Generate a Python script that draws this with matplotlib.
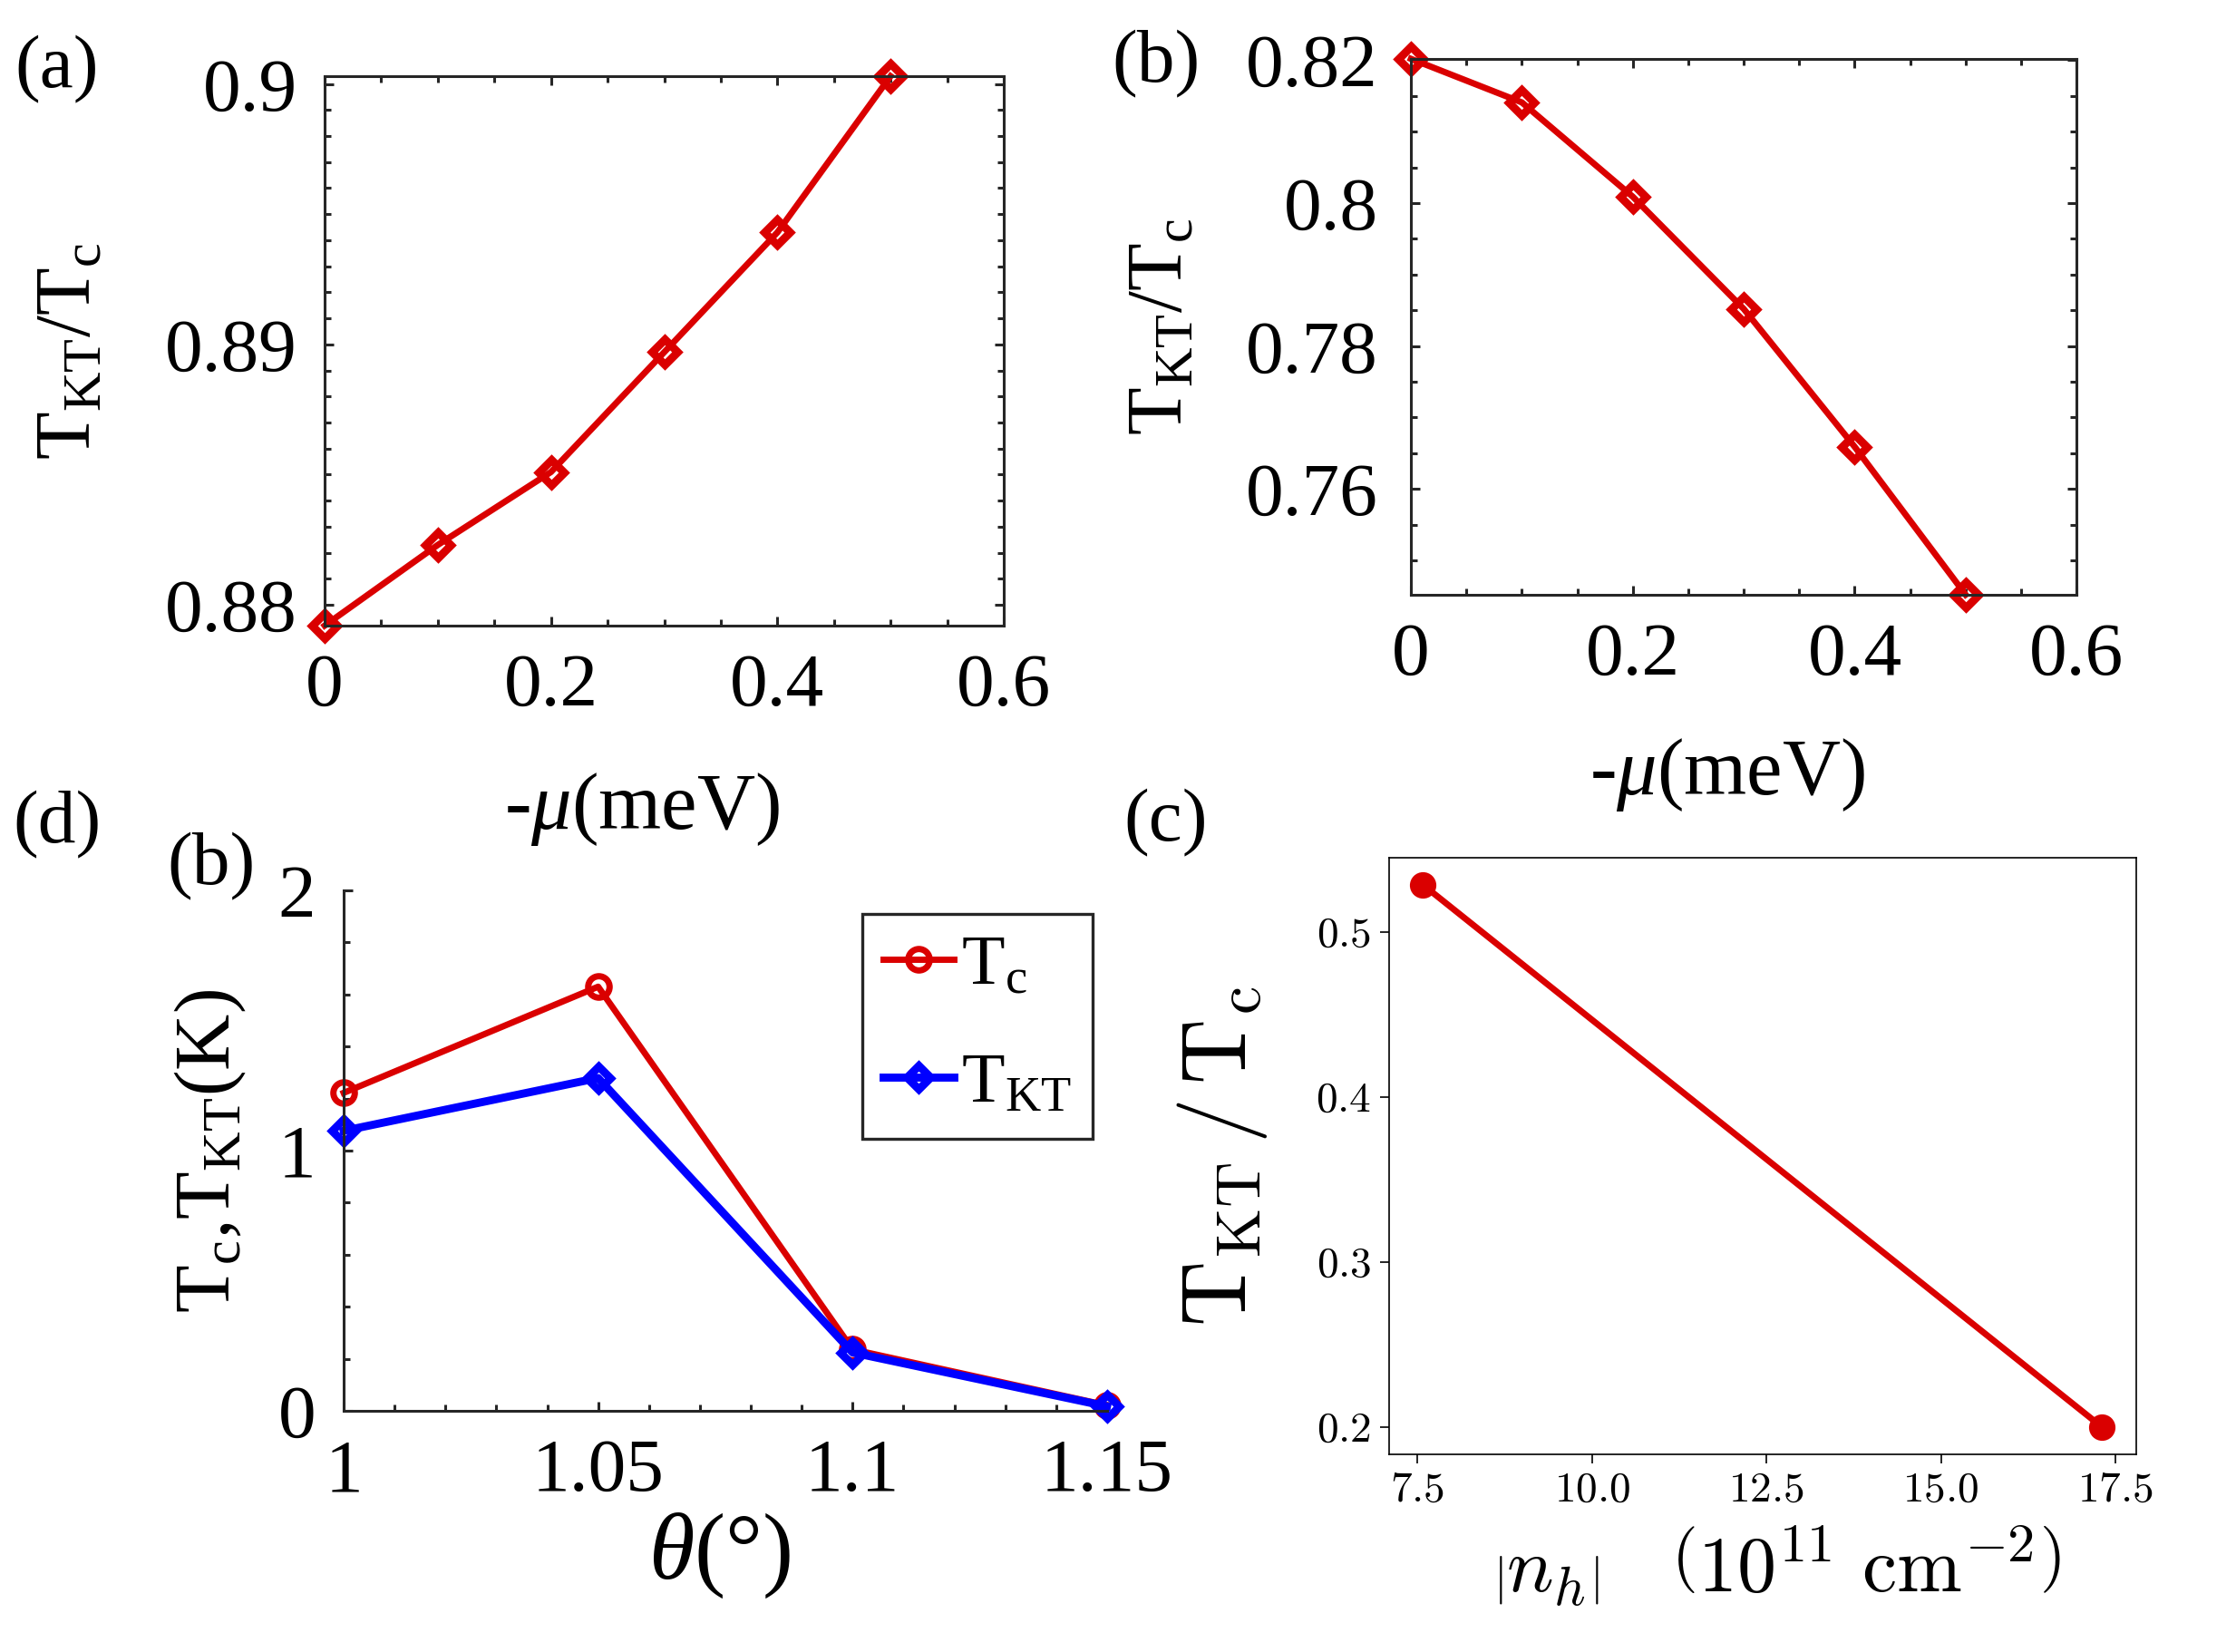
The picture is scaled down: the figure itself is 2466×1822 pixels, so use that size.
import numpy as np
import matplotlib
matplotlib.use("Agg")
import matplotlib.pyplot as plt
from matplotlib.ticker import MultipleLocator, FuncFormatter

# Setup: MATLAB-like Times look for (a), (b), (d)
plt.rcParams["font.family"] = "Liberation Serif"
plt.rcParams["mathtext.fontset"] = "custom"
plt.rcParams["mathtext.rm"] = "Liberation Serif"
plt.rcParams["mathtext.it"] = "Liberation Serif:italic"
plt.rcParams["mathtext.bf"] = "Liberation Serif:bold"
plt.rcParams["axes.linewidth"] = 1.1

# data
mu = [0.0, 0.1, 0.2, 0.3, 0.4, 0.5]
ratio_a = [0.8792, 0.8823, 0.8851, 0.8897, 0.8943, 0.9003]
ratio_b = [0.8202, 0.8141, 0.8009, 0.7852, 0.7659, 0.7452]
theta = [1.0, 1.05, 1.1, 1.15]
tc = [1.222, 1.630, 0.236, 0.021]
tkt = [1.076, 1.279, 0.224, 0.017]
nh = [7.58, 17.31]
ratio_c = [0.5284, 0.200]

mu_ticks = [0, 0.2, 0.4, 0.6]
a_yticks = [0.88, 0.89, 0.9]
b_yticks = [0.76, 0.78, 0.8, 0.82]
theta_ticks = [1.0, 1.05, 1.1, 1.15]
d_yticks = [0, 1, 2]
c_xticks = [7.5, 10.0, 12.5, 15.0, 17.5]
c_yticks = [0.2, 0.3, 0.4, 0.5]

RED = "#DA0000"
BLUE = "#0000FF"
DARK = "#262626"
TICK_FS = 30
gfmt = FuncFormatter(lambda v, p: f"{round(v, 4):g}")

fig = plt.figure(figsize=(12.33, 9.11), dpi=200)


def matlab_axes(ax, box=True):
    ax.tick_params(which="both", direction="in", colors=DARK, labelcolor="black",
                   labelsize=TICK_FS, top=box, right=box, width=1.1)
    ax.tick_params(which="major", length=3.5, pad=11)
    ax.tick_params(which="minor", length=2.5)
    for s in ax.spines.values():
        s.set_edgecolor(DARK)
    if not box:
        ax.spines["top"].set_visible(False)
        ax.spines["right"].set_visible(False)
    ax.xaxis.set_major_formatter(gfmt)
    ax.yaxis.set_major_formatter(gfmt)


# (a)
ax1 = fig.add_axes([0.1452, 0.6213, 0.3037, 0.3326])
ax1.plot(mu, ratio_a, color=RED, lw=2.5, marker="D", ms=7, mfc="none", mew=3.2, clip_on=False)
ax1.set_xlim(0, 0.6)
ax1.set_ylim(min(ratio_a), max(ratio_a))
ax1.set_xticks(mu_ticks)
ax1.set_yticks(a_yticks)
ax1.xaxis.set_minor_locator(MultipleLocator(0.05))
ax1.yaxis.set_minor_locator(MultipleLocator(0.001))
matlab_axes(ax1)
ax1.set_ylabel(r"$\mathrm{T_{KT}/T_c}$", fontsize=31)
ax1.yaxis.set_label_coords(-0.32, 0.5)
fig.text(0.2872, 0.5104, r"-$\mu$(meV)", fontsize=32, ha="center", va="center")

# (b) top right
ax2 = fig.add_axes([0.6310, 0.6400, 0.2977, 0.3244])
ax2.plot(mu, ratio_b, color=RED, lw=2.5, marker="D", ms=7, mfc="none", mew=3.2, clip_on=False)
ax2.set_xlim(0, 0.6)
ax2.set_ylim(min(ratio_b), max(ratio_b))
ax2.set_xticks(mu_ticks)
ax2.set_yticks(b_yticks)
ax2.xaxis.set_minor_locator(MultipleLocator(0.05))
ax2.yaxis.set_minor_locator(MultipleLocator(0.005))
matlab_axes(ax2)
ax2.tick_params(axis="y", which="major", pad=13)
ax2.set_ylabel(r"$\mathrm{T_{KT}/T_c}$", fontsize=31)
ax2.yaxis.set_label_coords(-0.318, 0.5)
fig.text(0.7724, 0.5309, r"-$\mu$(meV)", fontsize=32, ha="center", va="center")

# (d) bottom left
ax3 = fig.add_axes([0.1537, 0.1460, 0.3414, 0.3150])
ax3.plot(theta, tc, color=RED, lw=2.5, marker="o", ms=8.5, mfc="none", mew=2.5,
         clip_on=False, label=r"$\mathrm{T_c}$")
ax3.plot(theta, tkt, color=BLUE, lw=3.2, marker="D", ms=6.5, mfc="none", mew=3.2,
         clip_on=False, label=r"$\mathrm{T_{KT}}$")
ax3.set_xlim(1.0, 1.15)
ax3.set_ylim(0, 2)
ax3.set_xticks(theta_ticks)
ax3.set_yticks(d_yticks)
ax3.xaxis.set_minor_locator(MultipleLocator(0.01))
ax3.yaxis.set_minor_locator(MultipleLocator(0.2))
matlab_axes(ax3, box=False)
ax3.set_ylabel(r"$\mathrm{T_c{,}T_{KT}(K)}$", fontsize=31)
ax3.yaxis.set_label_coords(-0.125, 0.5)
fig.text(0.322, 0.0582, r"$\theta$(°)", fontsize=37, ha="center", va="center")
leg = ax3.legend(loc="upper right", bbox_to_anchor=(0.981, 0.955), borderaxespad=0,
                 fontsize=28, handlelength=1.0, handletextpad=0.1, labelspacing=0.75,
                 borderpad=0.3, fancybox=False, framealpha=1, edgecolor=DARK)
leg.get_frame().set_linewidth(1.2)

# (c) bottom right, LaTeX style
ax4 = fig.add_axes([0.6212, 0.1197, 0.3341, 0.3611])
ax4.plot(nh, ratio_c, color=RED, lw=2.5, marker="o", ms=9.5)
for s in ax4.spines.values():
    s.set_linewidth(0.6)
ax4.tick_params(width=0.6, length=3.5)
ax4.set_xticks(c_xticks, [f"${v:.1f}$" for v in c_xticks], fontsize=17, math_fontfamily="cm")
ax4.set_yticks(c_yticks, [f"${v:.1f}$" for v in c_yticks], fontsize=17, math_fontfamily="cm")
ax4.set_ylabel(r"$\mathrm{T_{KT}}\,/\,\mathrm{T_c}$", fontsize=36, math_fontfamily="cm")
ax4.yaxis.set_label_coords(-0.16, 0.5)
ax4.set_xlabel(r"$\left|n_h\right|\quad\left(10^{11}\ \mathrm{cm}^{-2}\right)$", fontsize=31,
               math_fontfamily="cm", va="center")
ax4.xaxis.set_label_coords(0.52, -0.19)

# panel letters
fig.text(0.0255, 0.958, "(a)", fontsize=30, ha="center", va="center")
fig.text(0.517, 0.961, "(b)", fontsize=30, ha="center", va="center")
fig.text(0.0255, 0.5005, "(d)", fontsize=30, ha="center", va="center")
fig.text(0.0944, 0.4757, "(b)", fontsize=30, ha="center", va="center")
fig.text(0.5215, 0.5016, "(c)", fontsize=30, ha="center", va="center")

fig.savefig("out.png", dpi=200)
